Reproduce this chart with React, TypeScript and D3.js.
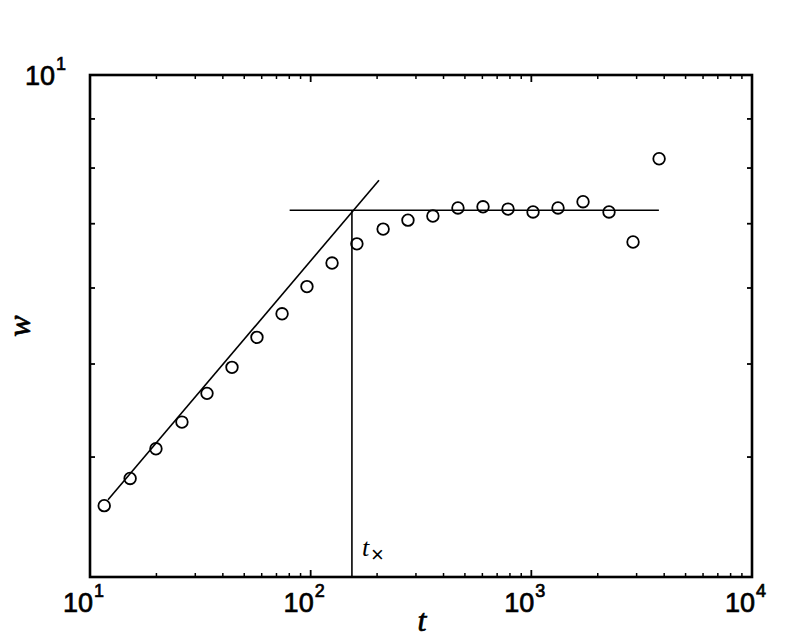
import * as d3 from "d3";

const tValues = [11.6, 15.2, 19.9, 26.1, 33.9, 44.0, 57.1, 74.2, 96.2, 125, 162, 213, 276, 358, 465, 604, 784, 1018, 1321, 1715, 2249, 2890, 3793];
const wValues = [3.56, 3.80, 4.08, 4.35, 4.66, 4.96, 5.33, 5.64, 6.02, 6.37, 6.67, 6.91, 7.06, 7.13, 7.27, 7.29, 7.25, 7.20, 7.27, 7.38, 7.20, 6.70, 8.18];

// fitted lines
const growthLine = [[12.07, 3.61], [204, 7.77]];
const satLine = [[80.3, 7.23], [3785, 7.23]];
const tCross = 153.8;

const xTickExps = [1, 2, 3, 4];
const yMinorTicks = [4, 5, 6, 7, 8, 9];

const dims = { width: 786, height: 640, left: 90, right: 752, top: 75, bottom: 577 };

const App = () => {
  const xScale = d3.scaleLog().domain([10, 10000]).range([dims.left, dims.right]);
  const yScale = d3.scaleLog().domain([3, 10]).range([dims.bottom, dims.top]);

  const line = d3.line<number[]>()
    .x(d => xScale(d[0]))
    .y(d => yScale(d[1]));

  // minor ticks 2..9 in each decade
  const xMinor: number[] = [];
  [10, 100, 1000].forEach(dec => {
    for (let k = 2; k <= 9; k++) xMinor.push(dec * k);
  });

  const labelFont = "'Liberation Sans', Arial, sans-serif";
  const mathFont = "'Liberation Serif', 'Times New Roman', serif";
  // scanned labels look heavier than a plain regular face
  const heavy = { stroke: "#000", strokeWidth: 0.7 };

  return (
    <svg width={dims.width} height={dims.height} style={{ position: "absolute", left: 0, top: 0, background: "#fff" }}>
      <g stroke="#000" fill="none">
        {/* minor ticks */}
        {xMinor.map((v, i) => (
          <g key={"xm" + i} strokeWidth={1.5}>
            <line x1={xScale(v)} x2={xScale(v)} y1={dims.bottom} y2={dims.bottom - 4} />
            <line x1={xScale(v)} x2={xScale(v)} y1={dims.top} y2={dims.top + 4} />
          </g>
        ))}
        {xTickExps.slice(1, 3).map(e => (
          <g key={"xM" + e} strokeWidth={1.8}>
            <line x1={xScale(10 ** e)} x2={xScale(10 ** e)} y1={dims.bottom} y2={dims.bottom - 7} />
            <line x1={xScale(10 ** e)} x2={xScale(10 ** e)} y1={dims.top} y2={dims.top + 7} />
          </g>
        ))}
        {yMinorTicks.map(v => (
          <g key={"ym" + v} strokeWidth={1.8}>
            <line x1={dims.left} x2={dims.left + 5} y1={yScale(v)} y2={yScale(v)} />
            <line x1={dims.right} x2={dims.right - 5} y1={yScale(v)} y2={yScale(v)} />
          </g>
        ))}

        {/* fit lines */}
        <path d={line(growthLine) || ""} strokeWidth={1.6} />
        <path d={line(satLine) || ""} strokeWidth={1.6} />
        <line
          x1={xScale(tCross)} x2={xScale(tCross)}
          y1={yScale(satLine[0][1])} y2={dims.bottom}
          strokeWidth={1.6}
        />

        {/* data circles */}
        {tValues.map((t, i) => (
          <circle key={i} cx={xScale(t)} cy={yScale(wValues[i])} r={5.8} strokeWidth={1.8} />
        ))}

        {/* frame */}
        <rect
          x={dims.left} y={dims.top}
          width={dims.right - dims.left} height={dims.bottom - dims.top}
          strokeWidth={2.6}
        />
      </g>

      {/* x tick labels */}
      {xTickExps.map(e => (
        <text key={"xl" + e} x={xScale(10 ** e) + 3} y={612} fontFamily={labelFont} fontSize={27} textAnchor="end" fill="#000" {...heavy}>
          10
        </text>
      ))}
      {xTickExps.map(e => (
        <text key={"xs" + e} x={xScale(10 ** e) + 4} y={597} fontFamily={labelFont} fontSize={18} fill="#000" {...heavy}>
          {e}
        </text>
      ))}

      {/* y tick label */}
      <text x={55} y={85} fontFamily={labelFont} fontSize={27} textAnchor="end" fill="#000" {...heavy}>10</text>
      <text x={56} y={70} fontFamily={labelFont} fontSize={18} fill="#000" {...heavy}>1</text>

      {/* axis titles */}
      <text x={422} y={631} fontFamily={mathFont} fontStyle="italic" fontSize={32} textAnchor="middle" fill="#000" {...heavy}>t</text>
      <text
        transform={`translate(30, 326) rotate(-90)`}
        fontFamily={mathFont} fontStyle="italic" fontSize={32} textAnchor="middle" fill="#000" {...heavy}
      >w</text>

      {/* crossover label */}
      <text x={362} y={556} fontFamily={mathFont} fontStyle="italic" fontSize={26} fill="#000">t</text>
      <text x={371} y={562} fontFamily={labelFont} fontSize={22} fill="#000">×</text>
    </svg>
  );
};

export default App;
